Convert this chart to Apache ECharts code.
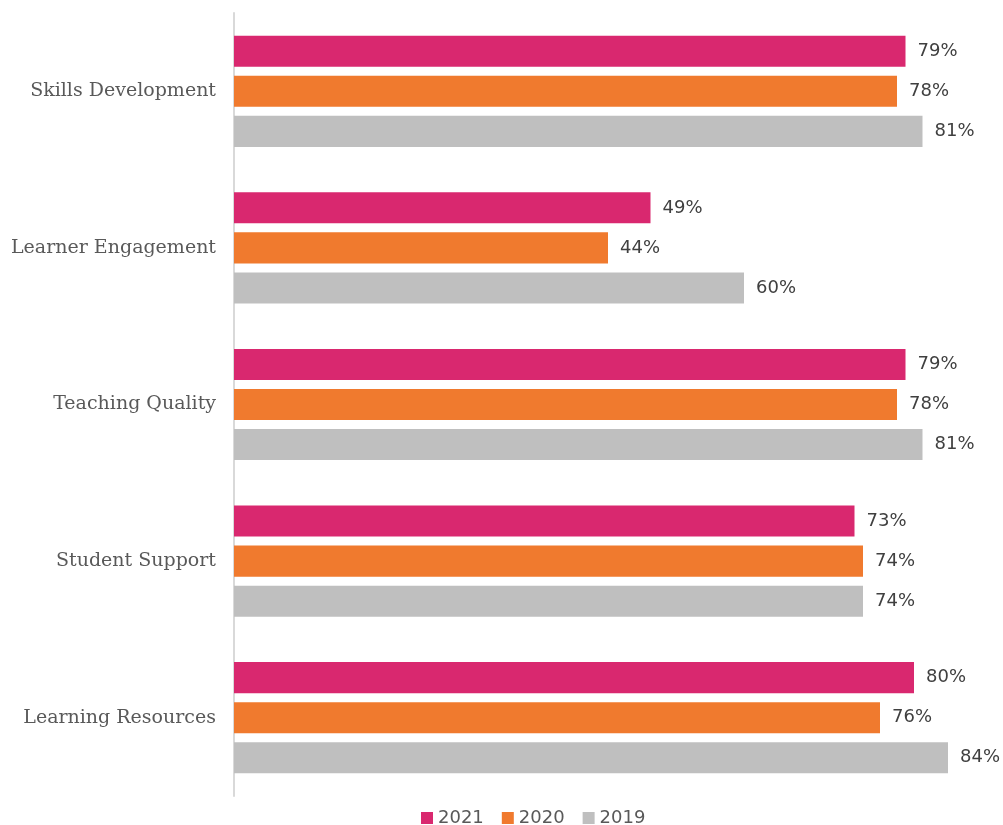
<!DOCTYPE html>
<html><head><meta charset="utf-8">
<script src="https://cdn.jsdelivr.net/npm/echarts@6/dist/echarts.min.js"></script>
<style>html,body{margin:0;padding:0;background:#fff}#c{width:1003px;height:825px}</style>
</head><body><div id="c"></div>
<script>
const categories = ["Skills Development","Learner Engagement","Teaching Quality","Student Support","Learning Resources"];
const seriesNames = ["2021","2020","2019"];
const values2021 = [79,49,79,73,80];
const values2020 = [78,44,78,74,76];
const values2019 = [81,60,81,74,84];
const colors = ["#D9286F","#F07A2E","#BFBFBF"];
const data = [values2021, values2020, values2019];

const chart = echarts.init(document.getElementById('c'));
chart.setOption({
  animation:false,
  grid:{left:234,right:55,top:13,bottom:29,containLabel:false},
  legend:{top:804,left:416,itemWidth:12,itemHeight:12,itemGap:18,icon:'rect',
    textStyle:{color:'#595959',fontSize:18,fontFamily:'DejaVu Sans'},data:seriesNames},
  xAxis:{type:'value',min:0,max:84,show:false},
  yAxis:{type:'category',data:categories,inverse:true,
    axisLine:{show:true,lineStyle:{color:'#D9D9D9',width:2}},axisTick:{show:false},
    axisLabel:{color:'#595959',fontSize:19,fontFamily:'DejaVu Serif',margin:18}},
  series: seriesNames.map((n,i)=>({
    name:n,type:'bar',data:data[i],itemStyle:{color:colors[i]},
    barGap:'29%',barCategoryGap:'29%',
    label:{show:true,position:'right',distance:12,formatter:'{c}%',color:'#404040',fontSize:18,fontFamily:'DejaVu Sans'}
  }))
});
</script></body></html>
